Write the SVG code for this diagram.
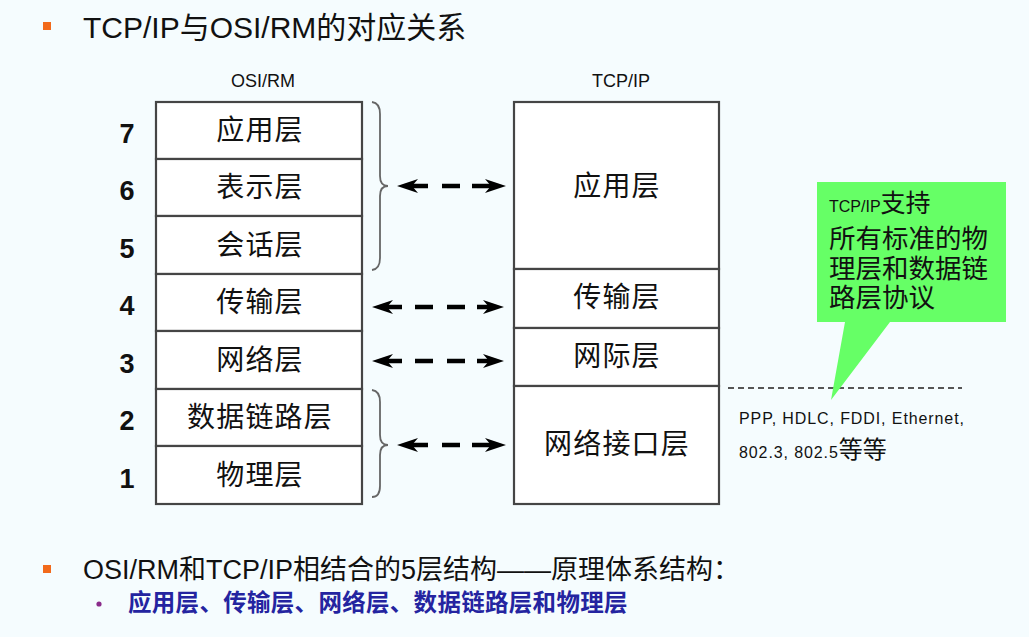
<svg xmlns="http://www.w3.org/2000/svg" width="1029" height="637" viewBox="0 0 1029 637">
  <style>
    .lat { font-family: "Liberation Sans", Arial, "Noto Sans CJK SC", sans-serif; }
    .cjk { font-family: "Liberation Sans", Arial, "Noto Sans CJK SC", sans-serif; }
    .box { fill: #ffffff; stroke: #454545; stroke-width: 2.2; }
    .layer { font-size: 28px; fill: #111; text-anchor: middle; letter-spacing: 1.2px; }
    .num { font-size: 27px; font-weight: bold; fill: #111; text-anchor: middle; }
    .col { font-size: 18px; fill: #111; text-anchor: middle; }
    .brace { fill: none; stroke: #666; stroke-width: 1.8; }
    .arrow { fill: none; stroke: #000; stroke-width: 4.5; marker-start: url(#head); marker-end: url(#head); }
    .bullet { fill: #f26a1b; }
  </style>
  <defs>
    <marker id="head" markerUnits="userSpaceOnUse" viewBox="0 0 21 14" markerWidth="21" markerHeight="14" refX="9" refY="7" orient="auto-start-reverse">
      <path d="M0,0 L21,7 L0,14 L6,7 Z" fill="#000"/>
    </marker>
  </defs>

  <rect width="1029" height="637" fill="#f5fcfe"/>

  <!-- heading -->
  <g id="title">
    <rect class="bullet" x="43" y="22" width="8" height="8"/>
    <text class="lat" x="83" y="38" font-size="30" fill="#111">TCP/IP与OSI/RM的对应关系</text>
  </g>

  <!-- column captions -->
  <text class="lat col" x="263" y="87">OSI/RM</text>
  <text class="lat col" x="621" y="87">TCP/IP</text>

  <!-- OSI reference model, seven layers -->
  <g id="osi-7">
    <rect class="box" x="156" y="102" width="206" height="57"/>
    <text class="cjk layer" x="260" y="140">应用层</text>
    <text class="lat num" x="127" y="143">7</text>
  </g>
  <g id="osi-6">
    <rect class="box" x="156" y="159" width="206" height="57"/>
    <text class="cjk layer" x="260" y="197">表示层</text>
    <text class="lat num" x="127" y="200">6</text>
  </g>
  <g id="osi-5">
    <rect class="box" x="156" y="216" width="206" height="58"/>
    <text class="cjk layer" x="260" y="255">会话层</text>
    <text class="lat num" x="127" y="258">5</text>
  </g>
  <g id="osi-4">
    <rect class="box" x="156" y="274" width="206" height="57"/>
    <text class="cjk layer" x="260" y="312">传输层</text>
    <text class="lat num" x="127" y="315">4</text>
  </g>
  <g id="osi-3">
    <rect class="box" x="156" y="331" width="206" height="58"/>
    <text class="cjk layer" x="260" y="370">网络层</text>
    <text class="lat num" x="127" y="373">3</text>
  </g>
  <g id="osi-2">
    <rect class="box" x="156" y="389" width="206" height="57"/>
    <text class="cjk layer" x="260" y="427">数据链路层</text>
    <text class="lat num" x="127" y="430">2</text>
  </g>
  <g id="osi-1">
    <rect class="box" x="156" y="446" width="206" height="58"/>
    <text class="cjk layer" x="260" y="485">物理层</text>
    <text class="lat num" x="127" y="488">1</text>
  </g>

  <!-- TCP/IP model, four layers -->
  <g id="tcp-application">
    <rect class="box" x="514" y="102" width="205" height="167"/>
    <text class="cjk layer" x="617" y="196">应用层</text>
  </g>
  <g id="tcp-transport">
    <rect class="box" x="514" y="269" width="205" height="59"/>
    <text class="cjk layer" x="617" y="307">传输层</text>
  </g>
  <g id="tcp-internet">
    <rect class="box" x="514" y="328" width="205" height="58"/>
    <text class="cjk layer" x="617" y="366">网际层</text>
  </g>
  <g id="tcp-network-interface">
    <rect class="box" x="514" y="386" width="205" height="118"/>
    <text class="cjk layer" x="617" y="454">网络接口层</text>
  </g>

  <!-- braces grouping OSI layers -->
  <g id="braces">
    <path class="brace" d="M372,102 Q380,103 380,114 V176 Q380,186 388,186 Q380,186 380,196 V258 Q380,269 372,270"/>
    <path class="brace" d="M372,390 Q380,391 380,402 V435 Q380,445 388,445 Q380,445 380,455 V486 Q380,497 372,497"/>
  </g>

  <!-- correspondence arrows -->
  <g id="connectors">
    <path class="arrow" d="M409,186 H428 M442,186 H460 M472,186 H494"/>
    <path class="arrow" d="M384,307 H402 M415,307 H433 M447,307 H465 M477,307 H492"/>
    <path class="arrow" d="M384,361 H402 M415,361 H433 M447,361 H465 M477,361 H492"/>
    <path class="arrow" d="M409,445 H428 M442,445 H460 M472,445 H494"/>
  </g>

  <!-- link-layer protocol note -->
  <g id="protocols">
    <line x1="728" y1="388" x2="962" y2="388" stroke="#555" stroke-width="2" stroke-dasharray="6 4"/>
    <text class="lat" x="739" y="424" font-size="16" letter-spacing="0.9" fill="#111">PPP, HDLC, FDDI, Ethernet,</text>
    <text class="lat" x="739" y="458" font-size="16" letter-spacing="0.9" fill="#111">802.3, 802.5<tspan font-size="24" letter-spacing="0">等等</tspan></text>
  </g>

  <!-- callout -->
  <g id="callout">
    <path d="M817,182 H1006 V322 H890 L831,400 L845,322 H817 Z" fill="#66ff66"/>
    <text class="lat" x="829" y="212" fill="#111"><tspan font-size="16">TCP/IP</tspan><tspan font-size="25">支持</tspan></text>
    <text class="cjk" font-size="26.5" fill="#111">
      <tspan x="829" y="248">所有标准的物</tspan>
      <tspan x="829" y="278">理层和数据链</tspan>
      <tspan x="829" y="307">路层协议</tspan>
    </text>
  </g>

  <!-- summary -->
  <g id="summary">
    <rect class="bullet" x="43" y="565" width="8" height="8"/>
    <text class="lat" x="83" y="579" font-size="27" fill="#111">OSI/RM和TCP/IP相结合的5层结构——原理体系结构：</text>
    <circle cx="99" cy="604" r="2.6" fill="#8a2b8a"/>
    <text class="cjk" x="128" y="611" font-size="23.5" font-weight="bold" letter-spacing="0.3" fill="#2424a0">应用层、传输层、网络层、数据链路层和物理层</text>
  </g>
</svg>
